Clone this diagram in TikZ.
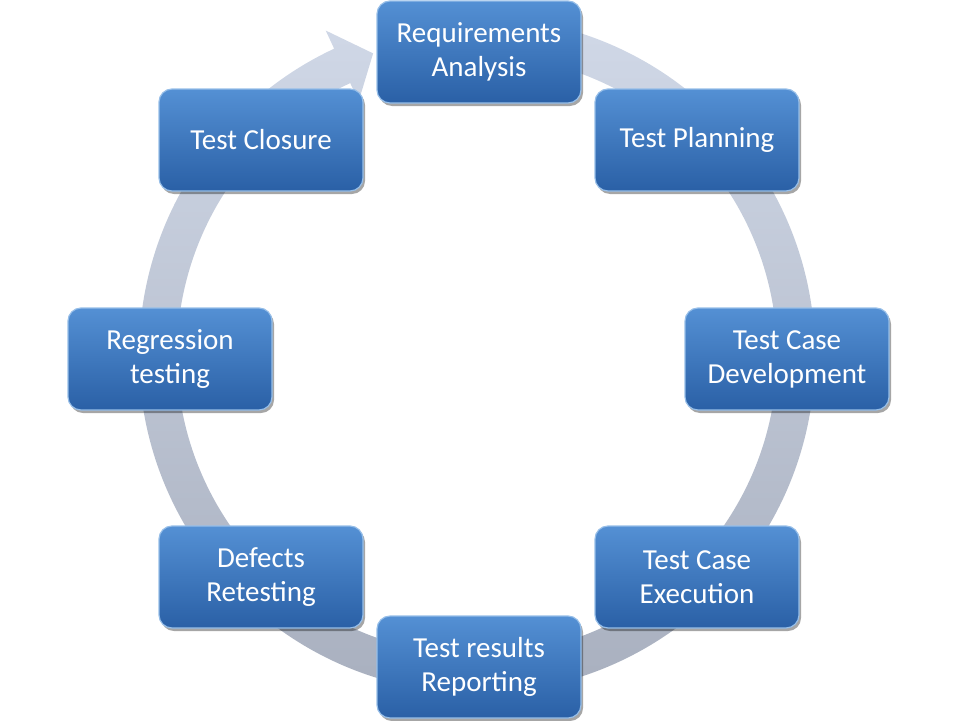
\documentclass[tikz,border=0pt]{standalone}
\usepackage{fontspec}
\setmainfont{Carlito}
\usetikzlibrary{calc,shadows}
\definecolor{ringtop}{RGB}{208,216,231}
\definecolor{ringbot}{RGB}{168,175,190}
\definecolor{boxtop}{RGB}{84,144,212}
\definecolor{boxbot}{RGB}{42,96,166}
\definecolor{boxedge}{RGB}{150,190,232}
\tikzset{
  stage/.style={rectangle, rounded corners=13pt, minimum width=204pt, minimum height=102pt,
    top color=boxtop, bottom color=boxbot, draw=boxedge, line width=1.2pt,
    text=white, align=center, font=\fontsize{29}{34}\selectfont,
    drop shadow={shadow xshift=2pt, shadow yshift=-3pt, opacity=0.35, fill=black}},
  ring/.style={top color=ringtop, bottom color=ringbot}
}
\begin{document}
\begin{tikzpicture}[x=1pt,y=-1pt]
\useasboundingbox (0,0) rectangle (960,720);
\coordinate (C) at (477,355);
% circular arrow
\shade[ring] ($(C)+(-85:338)$) arc[start angle=-85, end angle=245, radius=338]
  -- ($(C)+(245:358)$) -- ($(C)+(251:319)$) -- ($(C)+(245:280)$) -- ($(C)+(245:300)$)
  arc[start angle=245, end angle=-85, radius=300] -- cycle;
% stages
\node[stage] (req) at (479,52) {Requirements\\Analysis};
\node[stage] (plan) at (697,140) {Test Planning};
\node[stage] (dev) at (787,359) {Test Case\\Development};
\node[stage] (exec) at (697,577) {Test Case\\Execution};
\node[stage] (rep) at (479,667) {Test results\\Reporting};
\node[stage] (def) at (261,577) {Defects\\Retesting};
\node[stage] (reg) at (170,359) {Regression\\testing};
\node[stage] (clo) at (261,140) {Test Closure};
\end{tikzpicture}
\end{document}
